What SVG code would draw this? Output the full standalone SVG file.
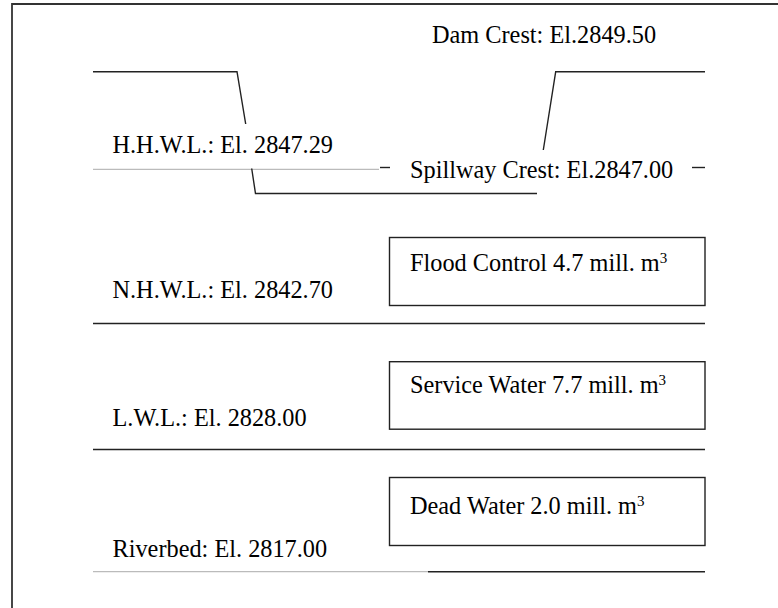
<svg xmlns="http://www.w3.org/2000/svg" width="778" height="608" viewBox="0 0 778 608">
<style>
text{font-family:"Liberation Serif","Times New Roman",serif;font-size:24.3px;fill:#000}
.ln{fill:none;stroke:#222;stroke-width:1.4}
.gr{fill:none;stroke:#bbb;stroke-width:1.2}
.box{fill:#fff;stroke:#222;stroke-width:1.4}
.sup{font-size:15px}
</style>
<rect width="778" height="608" fill="#fff"/>
<path d="M12,608 V4 H778" fill="none" stroke="#333" stroke-width="1.8"/>
<g id="lines">
<polyline class="ln" points="93,71.7 237,71.7 245.7,124"/>
<polyline class="ln" points="705,71.7 555.7,71.7 543.3,150"/>
<line class="gr" x1="93" y1="169.3" x2="379" y2="169.3"/>
<line class="ln" x1="380" y1="167.5" x2="390" y2="167.5"/>
<line class="ln" x1="692" y1="167.5" x2="705" y2="167.5"/>
<polyline class="ln" points="251.7,168.5 255.5,193.5 537,193.5"/>
<line class="ln" x1="93" y1="323.5" x2="705" y2="323.5" stroke="#444"/>
<line class="ln" x1="93" y1="449.5" x2="705" y2="449.5" stroke="#444"/>
<line class="gr" x1="93" y1="571.7" x2="428" y2="571.7" stroke="#888"/>
<line class="ln" x1="428" y1="571.7" x2="705" y2="571.7" stroke="#444"/>
</g>
<g id="dam-crest"><text x="432" y="43">Dam Crest: El.2849.50</text></g>
<g id="hhwl"><text x="112.5" y="153">H.H.W.L.: El. 2847.29</text></g>
<g id="spillway-crest"><text x="410" y="178.3">Spillway Crest: El.2847.00</text></g>
<g id="nhwl"><text x="112.5" y="298.3">N.H.W.L.: El. 2842.70</text></g>
<g id="lwl"><text x="112.5" y="426">L.W.L.: El. 2828.00</text></g>
<g id="riverbed"><text x="112.5" y="557.3">Riverbed: El. 2817.00</text></g>
<g id="flood-control">
<rect class="box" x="389.5" y="237.5" width="315.5" height="68"/>
<text x="410" y="270.7">Flood Control 4.7 mill. m<tspan class="sup" dy="-8">3</tspan></text>
</g>
<g id="service-water">
<rect class="box" x="389.5" y="361.7" width="315.5" height="67.5"/>
<text x="410" y="392.7">Service Water 7.7 mill. m<tspan class="sup" dy="-8">3</tspan></text>
</g>
<g id="dead-water">
<rect class="box" x="389.5" y="477.5" width="315.5" height="68"/>
<text x="410" y="514">Dead Water 2.0 mill. m<tspan class="sup" dy="-8">3</tspan></text>
</g>
</svg>
